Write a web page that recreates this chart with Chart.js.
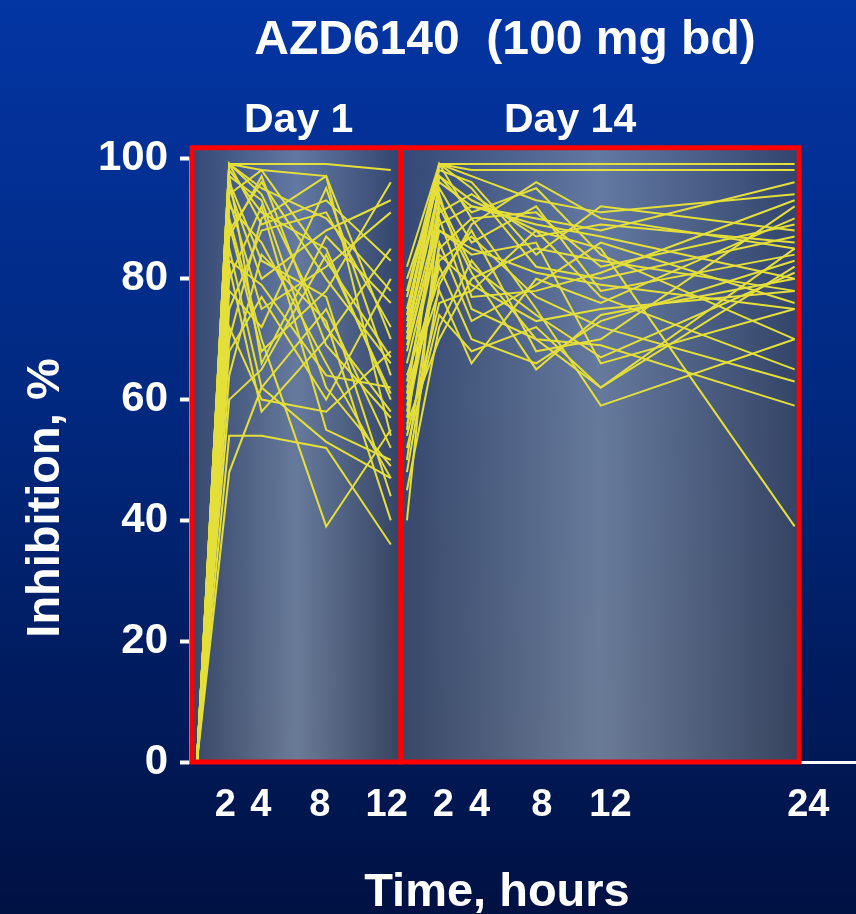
<!DOCTYPE html>
<html>
<head>
<meta charset="utf-8">
<title>AZD6140 (100 mg bd)</title>
<script src="https://cdn.jsdelivr.net/npm/chart.js@4.4.1/dist/chart.umd.min.js"></script>
<style>
  html, body { margin: 0; padding: 0; background: #001a5c; }
  #wrap { width: 856px; height: 914px; }
</style>
</head>
<body>
<div id="wrap"><canvas id="chart" width="856" height="914"></canvas></div>
<script>
// sampling times (hours) for each study day
const day1Hours = [0, 2, 4, 8, 12];
const day14Hours = [0, 2, 4, 8, 12, 24];
// day 14 is drawn after day 1 on one shared time axis
const day14Offset = 13;

// % inhibition per subject
const day1Inhibition = [
    [0, 99, 99, 99, 98],
    [0, 99, 98, 97, 70],
    [0, 98, 91, 85, 60],
    [0, 97, 93, 62, 49],
    [0, 95, 80, 88, 93],
    [0, 54, 54, 52, 36],
    [0, 90, 70, 39, 55],
    [0, 88, 96, 80, 66],
    [0, 85, 62, 75, 52],
    [0, 82, 58, 70, 85],
    [0, 78, 72, 95, 64],
    [0, 92, 86, 66, 47],
    [0, 99, 94, 72, 58],
    [0, 75, 88, 91, 72],
    [0, 68, 77, 60, 80],
    [0, 96, 83, 77, 44],
    [0, 60, 65, 84, 61],
    [0, 99, 89, 93, 83],
    [0, 87, 97, 69, 57],
    [0, 72, 60, 58, 68],
    [0, 93, 75, 82, 91],
    [0, 80, 92, 55, 50],
    [0, 97, 66, 87, 76],
    [0, 64, 84, 73, 40],
    [0, 99, 95, 90, 78],
    [0, 83, 79, 64, 62],
    [0, 48, 62, 53, 47],
    [0, 89, 68, 78, 96],
    [0, 94, 98, 83, 67],
    [0, 70, 90, 97, 54]
];

const day14Inhibition = [
    [78, 99, 99, 99, 99, 99],
    [70, 99, 98, 98, 98, 98],
    [55, 97, 93, 88, 85, 39],
    [62, 78, 66, 80, 76, 90],
    [40, 92, 81, 65, 74, 80],
    [58, 85, 90, 75, 59, 70],
    [52, 74, 68, 72, 62, 85],
    [80, 96, 92, 90, 88, 96],
    [66, 88, 84, 86, 66, 75],
    [74, 99, 95, 82, 80, 87],
    [60, 83, 87, 77, 72, 63],
    [82, 99, 97, 93, 91, 94],
    [56, 70, 80, 85, 83, 78],
    [68, 90, 75, 70, 69, 59],
    [72, 95, 86, 92, 78, 84],
    [64, 80, 88, 68, 70, 92],
    [50, 86, 73, 79, 86, 76],
    [77, 98, 96, 84, 92, 88],
    [61, 93, 82, 74, 67, 81],
    [54, 76, 78, 88, 77, 65],
    [70, 91, 94, 87, 89, 86],
    [59, 82, 70, 66, 73, 83],
    [75, 97, 91, 95, 84, 70],
    [63, 88, 85, 81, 79, 75],
    [48, 79, 89, 96, 90, 85],
    [71, 94, 77, 78, 81, 93],
    [45, 72, 83, 70, 62, 82],
    [69, 89, 92, 89, 87, 80],
    [57, 84, 79, 73, 75, 78],
    [73, 99, 90, 91, 82, 89]
];

// tick labels under the axis and where they sit on the shared axis
const xTickLabels = ['2', '4', '8', '12', '2', '4', '8', '12', '24'];
const xTickPos = [1.75, 3.95, 7.6, 11.75, 15.25, 17.5, 21.35, 25.6, 37.85];
const yTicks = [0, 20, 40, 60, 80, 100];

const FONT = '"Liberation Sans", Arial, Helvetica, sans-serif';
const LINE_COLOR = '#e4df3a';

// the two red framed panels, in axis units
const panels = [
    { from: -0.31, to: 12.63, label: 'Day 1', labelAt: 6.3 },
    { from: 12.63, to: 37.28, label: 'Day 14', labelAt: 23.1 }
];
const panelTop = 101.7;

const datasets = [];
day1Inhibition.forEach(function (row) {
    datasets.push({
        data: row.map((v, i) => ({ x: day1Hours[i], y: v })),
        borderColor: LINE_COLOR,
        borderWidth: 2,
        pointRadius: 0,
        tension: 0
    });
});
day14Inhibition.forEach(function (row) {
    datasets.push({
        data: row.map((v, i) => ({ x: day14Offset + day14Hours[i], y: v })),
        borderColor: LINE_COLOR,
        borderWidth: 2,
        pointRadius: 0,
        tension: 0
    });
});

const backdrop = {
    id: 'backdrop',
    beforeDraw(chart) {
        const ctx = chart.ctx;
        const g = ctx.createLinearGradient(0, 0, 0, chart.height);
        g.addColorStop(0, '#0335a3');
        g.addColorStop(0.45, '#01287f');
        g.addColorStop(1, '#001143');
        ctx.save();
        ctx.fillStyle = g;
        ctx.fillRect(0, 0, chart.width, chart.height);
        ctx.restore();
    },
    beforeDatasetsDraw(chart) {
        const ctx = chart.ctx;
        const x = chart.scales.x, y = chart.scales.y;
        const top = y.getPixelForValue(panelTop), bottom = y.getPixelForValue(0);
        ctx.save();
        panels.forEach(function (p) {
            const l = x.getPixelForValue(p.from), r = x.getPixelForValue(p.to);
            const h = ctx.createLinearGradient(l, 0, r, 0);
            h.addColorStop(0, '#2f4064');
            h.addColorStop(0.5, '#687b9b');
            h.addColorStop(1, '#2d3b5b');
            ctx.fillStyle = h;
            ctx.fillRect(l, top, r - l, bottom - top);
            const v = ctx.createLinearGradient(0, top, 0, bottom);
            v.addColorStop(0, 'rgba(70,110,200,0.18)');
            v.addColorStop(1, 'rgba(120,125,120,0.12)');
            ctx.fillStyle = v;
            ctx.fillRect(l, top, r - l, bottom - top);
        });
        ctx.restore();
    },
    afterDatasetsDraw(chart) {
        const ctx = chart.ctx;
        const x = chart.scales.x, y = chart.scales.y;
        const top = y.getPixelForValue(panelTop), bottom = y.getPixelForValue(0);
        ctx.save();
        ctx.strokeStyle = '#ff0000';
        ctx.lineWidth = 5;
        panels.forEach(function (p) {
            const l = x.getPixelForValue(p.from), r = x.getPixelForValue(p.to);
            ctx.strokeRect(l, top, r - l, bottom - top);
        });
        ctx.restore();
    },
    afterDraw(chart) {
        const ctx = chart.ctx;
        const x = chart.scales.x;
        ctx.save();
        ctx.fillStyle = '#ffffff';
        ctx.textAlign = 'center';
        ctx.textBaseline = 'alphabetic';

        ctx.font = 'bold 48px ' + FONT;
        ctx.fillText('AZD6140  (100 mg bd)', 505, 54);

        ctx.font = 'bold 41px ' + FONT;
        panels.forEach(function (p) {
            ctx.fillText(p.label, x.getPixelForValue(p.labelAt), 132);
        });

        ctx.font = 'bold 47px ' + FONT;
        ctx.fillText('Time, hours', 497, 906);

        ctx.translate(59, 498);
        ctx.rotate(-Math.PI / 2);
        ctx.fillText('Inhibition, %', 0, 0);
        ctx.restore();
    }
};

new Chart(document.getElementById('chart').getContext('2d'), {
    type: 'line',
    data: { datasets: datasets },
    options: {
        responsive: false,
        animation: false,
        events: [],
        layout: { padding: { top: 158, right: 0, bottom: 0, left: 0 } },
        plugins: {
            legend: { display: false },
            tooltip: { enabled: false },
            title: { display: false }
        },
        scales: {
            x: {
                type: 'linear',
                min: -0.43,
                max: 40.8,
                afterFit(scale) { scale.height = 152; },
                afterBuildTicks(scale) {
                    scale.ticks = xTickPos.map(v => ({ value: v }));
                },
                ticks: {
                    autoSkip: false,
                    maxRotation: 0,
                    padding: 21,
                    color: '#ffffff',
                    font: { family: FONT, size: 38, weight: 'bold' },
                    callback: (value, index) => xTickLabels[index]
                },
                grid: { display: false, drawTicks: false },
                border: { display: true, color: '#ffffff', width: 3 }
            },
            y: {
                type: 'linear',
                min: 0,
                max: 100,
                afterFit(scale) { scale.width = 190; },
                afterBuildTicks(scale) {
                    scale.ticks = yTicks.map(v => ({ value: v }));
                },
                ticks: {
                    padding: 12,
                    color: '#ffffff',
                    font: { family: FONT, size: 42, weight: 'bold' }
                },
                grid: {
                    drawOnChartArea: false,
                    drawTicks: true,
                    tickLength: 10,
                    tickColor: '#ffffff',
                    tickWidth: 4
                },
                border: { display: true, color: '#d8d8d8', width: 3 }
            }
        }
    },
    plugins: [backdrop]
});
</script>
</body>
</html>
